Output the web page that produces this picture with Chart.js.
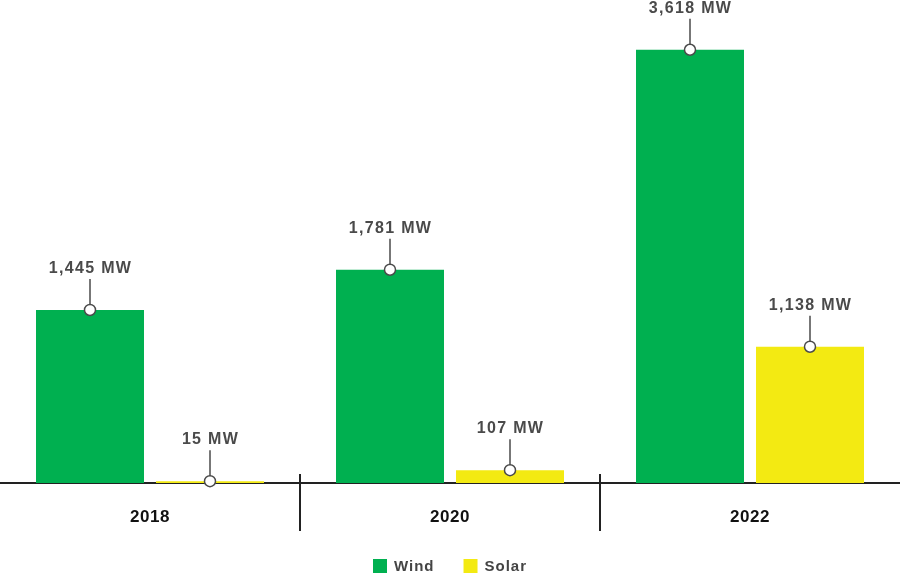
<!DOCTYPE html>
<html>
<head>
<meta charset="utf-8">
<script src="https://cdn.jsdelivr.net/npm/chart.js@4.4.1/dist/chart.umd.min.js"></script>
<style>
  html, body { margin: 0; padding: 0; background: #ffffff; }
  #wrap { width: 900px; height: 575px; }
</style>
</head>
<body>
<div id="wrap"><canvas id="c" width="900" height="575"></canvas></div>
<script>
const categories = ['2018', '2020', '2022'];
const windValues = [1445, 1781, 3618];
const solarValues = [15, 107, 1138];
const seriesNames = ['Wind', 'Solar'];
const unitLabel = 'MW';
const yMax = 4000;

const WIND_COLOR = '#00B050';
const SOLAR_COLOR = '#F3EA12';
const FONT = '"Liberation Sans", Arial, Helvetica, sans-serif';

const annotatePlugin = {
  id: 'annotate',
  beforeDraw(chart) {
    chart.ctx.letterSpacing = '0.5px';
  },
  afterDatasetsDraw(chart) {
    const ctx = chart.ctx;
    const area = chart.chartArea;
    const xs = chart.scales.x;
    ctx.save();
    // category separators
    ctx.strokeStyle = '#222222';
    ctx.lineWidth = 2;
    for (let i = 1; i < categories.length; i++) {
      const x = Math.round((xs.getPixelForValue(i - 1) + xs.getPixelForValue(i)) / 2);
      ctx.beginPath();
      ctx.moveTo(x, area.bottom - 9);
      ctx.lineTo(x, area.bottom + 48);
      ctx.stroke();
    }
    // value labels with leader lines and markers
    ctx.letterSpacing = '1.3px';
    ctx.font = 'bold 16px ' + FONT;
    ctx.textAlign = 'center';
    ctx.textBaseline = 'alphabetic';
    chart.data.datasets.forEach((ds, di) => {
      const meta = chart.getDatasetMeta(di);
      meta.data.forEach((el, i) => {
        const x = el.x;
        const y = el.y;
        const baseline = y - 37;
        ctx.strokeStyle = '#4a4a4a';
        ctx.lineWidth = 1.5;
        ctx.beginPath();
        ctx.moveTo(x, baseline + 6);
        ctx.lineTo(x, y - 5);
        ctx.stroke();
        ctx.beginPath();
        ctx.arc(x, y, 5.5, 0, Math.PI * 2);
        ctx.fillStyle = '#ffffff';
        ctx.fill();
        ctx.stroke();
        ctx.fillStyle = '#4a4a4a';
        const txt = ds.data[i].toLocaleString('en-US') + ' ' + unitLabel;
        ctx.fillText(txt, x + 0.5, baseline);
      });
    });
    // legend
    ctx.letterSpacing = '1px';
    ctx.font = 'bold 15px ' + FONT;
    ctx.textAlign = 'left';
    ctx.textBaseline = 'middle';
    const box = 14, gapText = 7, gapItem = 30;
    const items = chart.data.datasets.map(ds => ({ label: ds.label, color: ds.backgroundColor, w: ctx.measureText(ds.label).width - 1 }));
    let total = 0;
    items.forEach((it, k) => { total += box + gapText + it.w + (k < items.length - 1 ? gapItem : 0); });
    let x = Math.round(chart.width / 2 - total / 2);
    const cy = 566;
    items.forEach(it => {
      ctx.fillStyle = it.color;
      ctx.fillRect(x, cy - 7, box, box);
      ctx.fillStyle = '#444444';
      ctx.fillText(it.label, x + box + gapText, cy + 1);
      x += box + gapText + it.w + gapItem;
    });
    ctx.restore();
  }
};

new Chart(document.getElementById('c'), {
  type: 'bar',
  data: {
    labels: categories,
    datasets: [
      { label: seriesNames[0], data: windValues, backgroundColor: WIND_COLOR, borderWidth: 0 },
      { label: seriesNames[1], data: solarValues, backgroundColor: SOLAR_COLOR, borderWidth: 0 }
    ]
  },
  options: {
    responsive: false,
    animation: false,
    devicePixelRatio: 1,
    layout: { padding: { top: 4, left: 0, right: 0, bottom: 0 } },
    categoryPercentage: 0.8,
    barPercentage: 0.9,
    plugins: {
      legend: { display: false },
      tooltip: { enabled: false }
    },
    scales: {
      x: {
        grid: { display: false, drawTicks: false },
        border: { display: true, color: '#222222', width: 2 },
        ticks: {
          color: '#111111',
          font: { family: FONT, size: 17, weight: 'bold' },
          padding: 24
        },
        afterFit(scale) { scale.height = 92; }
      },
      y: {
        display: false,
        min: 0,
        max: yMax
      }
    }
  },
  plugins: [annotatePlugin]
});
</script>
</body>
</html>
